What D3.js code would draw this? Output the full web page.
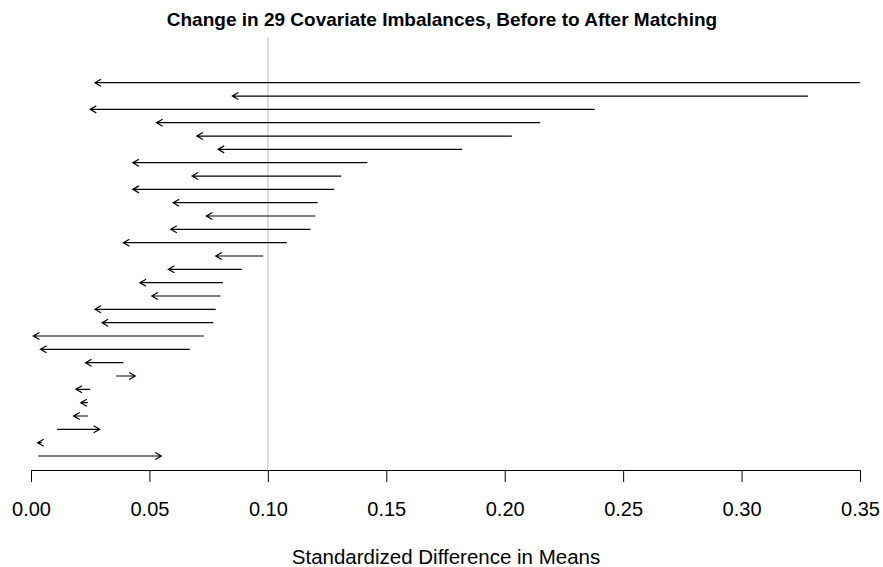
<!DOCTYPE html>
<html>
<head>
<meta charset="utf-8">
<script src="https://cdn.jsdelivr.net/npm/d3@7"></script>
<style>
  html, body { margin: 0; padding: 0; background: #fff; }
  svg { display: block; font-family: "Liberation Sans", Arial, Helvetica, sans-serif; }
</style>
</head>
<body>
<svg id="chart" width="883" height="567"></svg>
<script>
// Covariates, top to bottom (row 1 = largest imbalance before matching)
const covariates = d3.range(1, 30).map(i => "Covariate " + i);

// Standardized difference in means before matching
const before = [
  0.350, 0.328, 0.238, 0.215, 0.203, 0.182, 0.142, 0.131, 0.128, 0.121,
  0.120, 0.118, 0.108, 0.098, 0.089, 0.081, 0.080, 0.078, 0.077, 0.073,
  0.067, 0.039, 0.036, 0.025, 0.024, 0.024, 0.011, 0.0045, 0.003
];

// Standardized difference in means after matching
const after = [
  0.027, 0.085, 0.025, 0.053, 0.070, 0.079, 0.043, 0.068, 0.043, 0.060,
  0.074, 0.059, 0.039, 0.078, 0.058, 0.046, 0.051, 0.027, 0.030, 0.001,
  0.004, 0.023, 0.044, 0.019, 0.021, 0.018, 0.029, 0.0028, 0.055
];

const xTicks = [0, 0.05, 0.10, 0.15, 0.20, 0.25, 0.30, 0.35];
const threshold = 0.10;

const titleText = "Change in 29 Covariate Imbalances, Before to After Matching";
const xLabel = "Standardized Difference in Means";

const svg = d3.select("#chart");

const x = d3.scaleLinear().domain([0, 0.35]).range([31, 860]);
const y = d3.scalePoint().domain(covariates).range([82.7, 456]);

const plotTop = 38, axisY = 470;

// Reference line at 0.10
svg.append("line")
  .attr("x1", x(threshold)).attr("x2", x(threshold))
  .attr("y1", plotTop).attr("y2", axisY)
  .attr("stroke", "#d3d3d3").attr("stroke-width", 1.5);

// Arrows from before-matching to after-matching imbalance
const headLen = 7, headAng = Math.PI / 6;
const rows = covariates.map((c, i) => ({ c, b: before[i], a: after[i] }));

const g = svg.append("g")
  .attr("fill", "none").attr("stroke", "#000").attr("stroke-width", 1.2);

g.selectAll("path.arrow")
  .data(rows)
  .join("path")
  .attr("class", "arrow")
  .attr("d", d => {
    const x0 = x(d.b), x1 = x(d.a), yy = y(d.c);
    const dir = x1 < x0 ? 1 : -1; // head opens toward the start point
    const hx = x1 + dir * headLen * Math.cos(headAng);
    const hy = headLen * Math.sin(headAng);
    return `M${x0},${yy}L${x1},${yy}` +
           `M${hx},${yy - hy}L${x1},${yy}L${hx},${yy + hy}`;
  });

// Bottom axis
const axis = d3.axisBottom(x)
  .tickValues(xTicks)
  .tickFormat(d3.format(".2f"))
  .tickSize(12)
  .tickSizeOuter(0)
  .tickPadding(6);

const ax = svg.append("g")
  .attr("transform", `translate(0,${axisY})`)
  .call(axis);

ax.select(".domain").attr("stroke", "#000").attr("stroke-width", 1);
ax.selectAll(".tick line").attr("stroke", "#000").attr("stroke-width", 1);
ax.selectAll(".tick text")
  .attr("fill", "#000")
  .attr("font-size", 20)
  .attr("font-family", "Liberation Sans, Arial, sans-serif")
  .attr("dy", null)
  .attr("y", 46);

// Titles
svg.append("text")
  .attr("x", 442).attr("y", 26)
  .attr("text-anchor", "middle")
  .attr("font-weight", "bold")
  .attr("font-size", 19)
  .text(titleText);

svg.append("text")
  .attr("x", 446).attr("y", 564)
  .attr("text-anchor", "middle")
  .attr("font-size", 20.5)
  .text(xLabel);
</script>
</body>
</html>
